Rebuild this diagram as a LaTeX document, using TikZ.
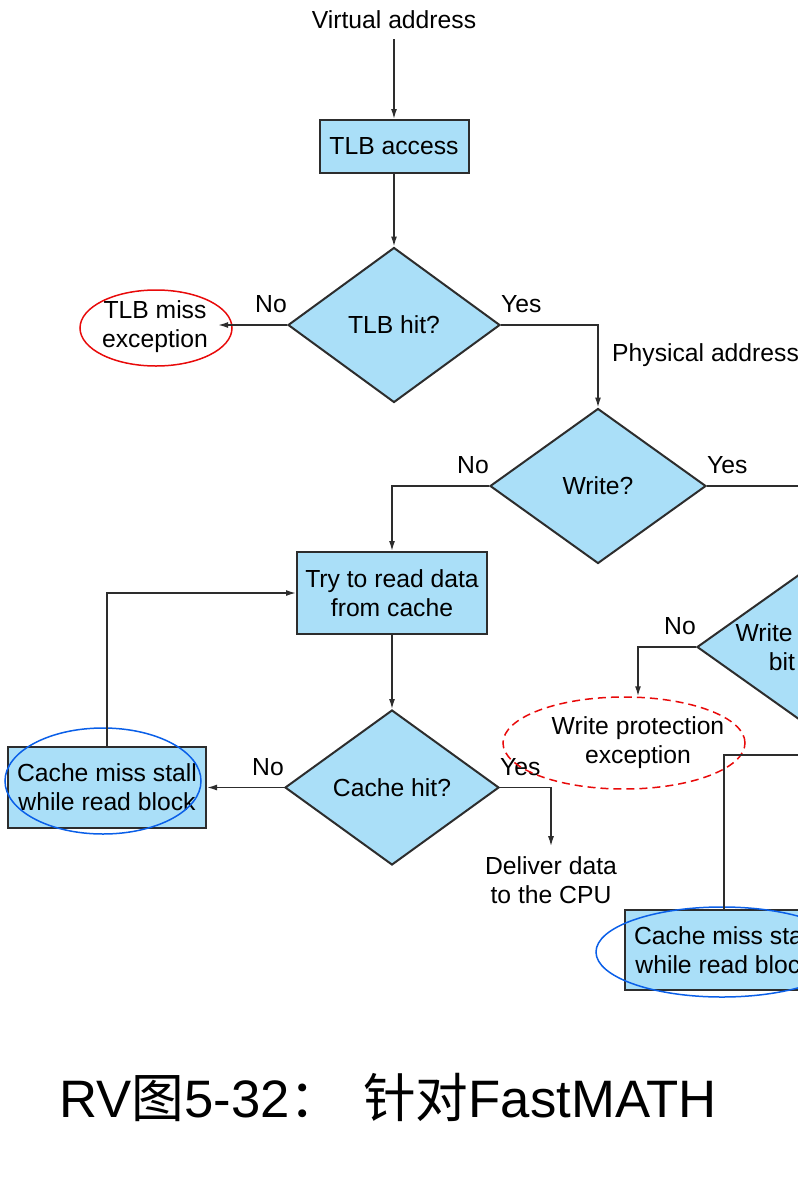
\documentclass[tikz,border=0pt]{standalone}
\usepackage{fontspec}
\setmainfont{Liberation Sans}
\newfontfamily\cjk{Noto Sans CJK SC}
\usetikzlibrary{arrows.meta,positioning,shapes.geometric}
\definecolor{sky}{RGB}{170,223,248}
\definecolor{edge}{RGB}{45,45,45}
\definecolor{alert}{RGB}{232,10,10}
\definecolor{hilite}{RGB}{10,95,232}
\newcommand\diagfont{\fontsize{24.7}{29}\selectfont}
\tikzset{
  >={Latex[length=10pt,width=6pt]},
  procbox/.style={draw=edge,fill=sky,line width=2pt,align=center,font=\diagfont,inner sep=0pt},
  decide/.style={diamond,aspect=1.4,draw=edge,fill=sky,line width=2pt,align=center,
    font=\diagfont,inner sep=0pt},
  flow/.style={->,line width=1.5pt,draw=edge},
  tag/.style={font=\diagfont,align=center,inner sep=10pt},
  ans/.style={font=\diagfont,inner sep=0pt},
  ring/.style={ellipse,draw=#1,line width=1.5pt,inner sep=0pt},
  ring/.default=alert,
}

\begin{document}
\begin{tikzpicture}[x=1pt,y=-1pt]
  \useasboundingbox (0,0) rectangle (798,1192);
  \clip (0,0) rectangle (798,1192);
  % translation and read path
  \node[tag] (va) at (394,20) {Virtual address};
  \node[procbox,minimum width=149pt,minimum height=53pt] (tlb) at (394,146.5) {TLB access};
  \node[decide,minimum width=212pt,minimum height=155pt] (tlbhit) at (394,325) {TLB hit?};
  \node[tag] (tlbmiss) at (155,327) {TLB miss\\exception};
  \node[tag,anchor=west,inner sep=0pt] (pa) at (612,355) {Physical address};
  \node[decide,minimum width=216pt,minimum height=155pt] (write) at (598,486) {Write?};
  \node[procbox,minimum width=190pt,minimum height=82pt] (tryb) at (392,593) {Try to read data\\from cache};
  \node[decide,minimum width=214pt,minimum height=155pt] (cachehit) at (392,787.5) {Cache hit?};
  \node[procbox,minimum width=198pt,minimum height=81pt] (stall) at (107,787.5) {Cache miss stall\\while read block};
  \node[tag] (deliver) at (551,880) {Deliver data\\to the CPU};
  % write path
  \node[decide,minimum width=218pt,minimum height=155pt] (wab) at (806,647) {Write access\\bit on?};
  \node[tag] (wpexc) at (638,743) {Write protection\\exception};
  \node[procbox,minimum width=198pt,minimum height=80pt] (stall2) at (724,950) {Cache miss stall\\while read block};
  \coordinate (wloop) at (880,755);
  % answers
  \node[ans,above left=12pt and 0pt of tlbhit.west] (no1) {No};
  \node[ans,above right=12pt and 0pt of tlbhit.east] (yes1) {Yes};
  \node[ans,above left=12pt and 0pt of write.west] (no2) {No};
  \node[ans,above right=12pt and 0pt of write.east] (yes2) {Yes};
  \node[ans,above left=12pt and 0pt of wab.west] (no3) {No};
  \node[ans,above left=12pt and 0pt of cachehit.west] (no4) {No};
  \node[ans,above right=12pt and 0pt of cachehit.east] (yes4) {Yes};
  % marks
  \node[ring,minimum width=152pt,minimum height=76pt] (tlbring) at (156,328) {};
  \node[ring,dash pattern=on 8pt off 5pt,minimum width=242pt,minimum height=92pt] (wpring) at (624,743) {};
  \node[ring=hilite,minimum width=196pt,minimum height=106pt] (stallring) at (103,781) {};
  \node[ring=hilite,minimum width=252pt,minimum height=90pt] (stall2ring) at (722,952) {};
  % connectors
  \draw[flow] (va) -- (tlb);
  \draw[flow] (tlb) -- (tlbhit);
  \draw[flow] (tlbhit.west) -- (tlbmiss.east |- tlbhit.west);
  \draw[flow] (tlbhit.east) -| (write.north);
  \draw[flow] (write.west) -| (tryb.north);
  \draw[flow] (write.east) -| (wab.north);
  \draw[flow] (tryb.south) -- (cachehit.north);
  \draw[flow] (cachehit.west) -- (stall.east);
  \draw[flow] (stall.north) |- (tryb.west);
  \draw[flow] (cachehit.east) -| (deliver.north);
  \draw[flow] (wab.west) -| (wpexc.center |- wpring.north);
  \draw[flow,-] (stall2.north) |- (wloop);
  % caption
  \node[anchor=base,inner sep=0pt,font=\fontsize{52.7}{60}\selectfont] (title) at (388,1117)
    {RV{\cjk 图}5-32{\cjk ：}\hspace{6pt} {\cjk 针对}FastMATH};
\end{tikzpicture}
\end{document}
